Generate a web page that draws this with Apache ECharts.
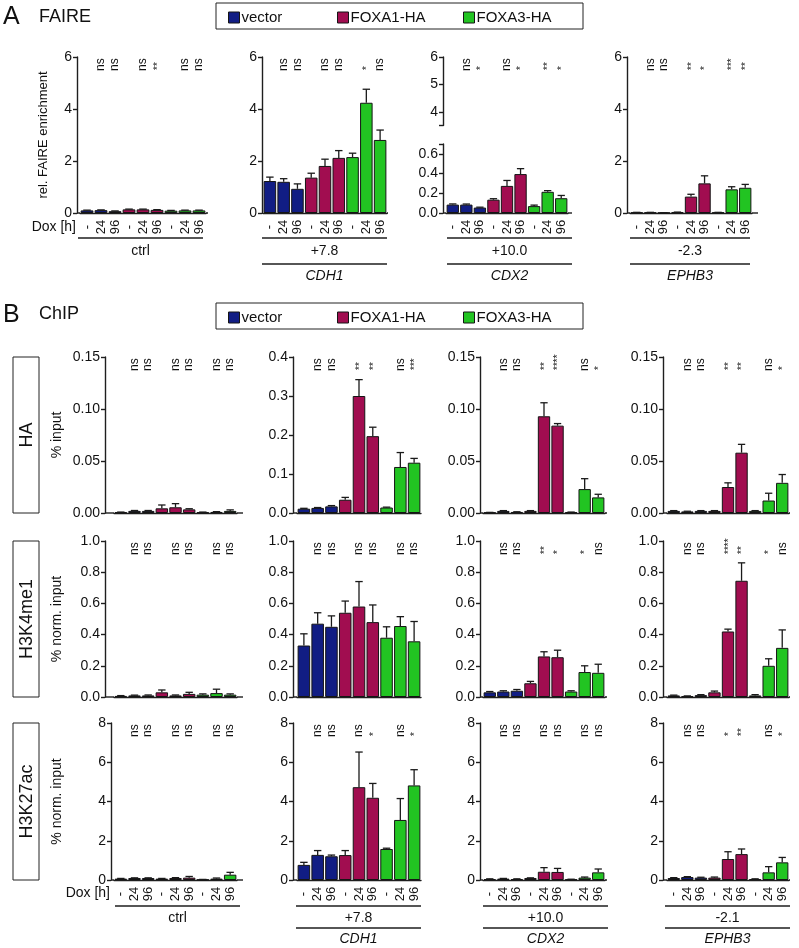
<!DOCTYPE html>
<html><head><meta charset="utf-8">
<script src="https://cdn.jsdelivr.net/npm/echarts@6/dist/echarts.min.js"></script>
<style>html,body{margin:0;padding:0;background:#fff}#c{width:799px;height:948px}</style>
</head><body><div id="c"></div>
<script>
// ---------- categories / labels ----------
const groupNames = ['vector', 'FOXA1-HA', 'FOXA3-HA'];
const doxLabels = ['-', '24', '96', '-', '24', '96', '-', '24', '96'];
const faireRegions = ['ctrl', '+7.8', '+10.0', '-2.3'];
const chipRegions = ['ctrl', '+7.8', '+10.0', '-2.1'];
const geneNames = ['', 'CDH1', 'CDX2', 'EPHB3'];
const chipMarks = ['HA', 'H3K4me1', 'H3K27ac'];

// ---------- FAIRE ----------
const faireCtrlMean  = [0.10, 0.11, 0.07, 0.14, 0.14, 0.12, 0.09, 0.10, 0.10];
const faireCtrlErr   = [0.01, 0.01, 0.01, 0.01, 0.01, 0.01, 0.01, 0.01, 0.01];
const faireCtrlSig   = ['', 'ns', 'ns', '', 'ns', '**', '', 'ns', 'ns'];
const faireCdh1Mean  = [1.23, 1.20, 0.93, 1.36, 1.81, 2.12, 2.15, 4.24, 2.81];
const faireCdh1Err   = [0.15, 0.12, 0.19, 0.17, 0.26, 0.28, 0.15, 0.52, 0.38];
const faireCdh1Sig   = ['', 'ns', 'ns', '', 'ns', 'ns', '', '*', 'ns'];
const faireCdx2Mean  = [0.085, 0.085, 0.055, 0.135, 0.275, 0.395, 0.07, 0.215, 0.15];
const faireCdx2Err   = [0.007, 0.006, 0.004, 0.010, 0.055, 0.055, 0.010, 0.012, 0.028];
const faireCdx2Sig   = ['', 'ns', '*', '', 'ns', '*', '', '**', '*'];
const faireEphb3Mean = [0.02, 0.02, 0.01, 0.03, 0.63, 1.14, 0.02, 0.91, 0.97];
const faireEphb3Err  = [0.005, 0.005, 0.003, 0.005, 0.09, 0.29, 0.005, 0.10, 0.13];
const faireEphb3Sig  = ['', 'ns', 'ns', '', '**', '*', '', '***', '**'];

// ---------- ChIP HA ----------
const haCtrlMean  = [0.0007, 0.002, 0.002, 0.0045, 0.0055, 0.0035, 0.0007, 0.001, 0.002];
const haCtrlErr   = [0.0002, 0.0004, 0.0004, 0.0032, 0.0035, 0.0006, 0.0002, 0.0003, 0.001];
const haCtrlSig   = ['', 'ns', 'ns', '', 'ns', 'ns', '', 'ns', 'ns'];
const haCdh1Mean  = [0.011, 0.013, 0.017, 0.034, 0.300, 0.197, 0.014, 0.118, 0.129];
const haCdh1Err   = [0.001, 0.001, 0.002, 0.006, 0.042, 0.023, 0.001, 0.037, 0.011];
const haCdh1Sig   = ['', 'ns', 'ns', '', '**', '**', '', 'ns', '***'];
const haCdx2Mean  = [0.0005, 0.002, 0.001, 0.002, 0.093, 0.084, 0.0008, 0.023, 0.015];
const haCdx2Err   = [0.0001, 0.0003, 0.0002, 0.0003, 0.013, 0.002, 0.0001, 0.010, 0.003];
const haCdx2Sig   = ['', 'ns', 'ns', '', '**', '****', '', 'ns', '*'];
const haEphb3Mean = [0.002, 0.0015, 0.002, 0.002, 0.025, 0.058, 0.002, 0.012, 0.029];
const haEphb3Err  = [0.0003, 0.0002, 0.0003, 0.0003, 0.004, 0.008, 0.0003, 0.007, 0.008];
const haEphb3Sig  = ['', 'ns', 'ns', '', '**', '**', '', 'ns', '*'];

// ---------- ChIP H3K4me1 ----------
const k4CtrlMean  = [0.007, 0.01, 0.01, 0.03, 0.01, 0.02, 0.015, 0.025, 0.015];
const k4CtrlErr   = [0.002, 0.002, 0.003, 0.015, 0.003, 0.01, 0.005, 0.025, 0.005];
const k4CtrlSig   = ['', 'ns', 'ns', '', 'ns', 'ns', '', 'ns', 'ns'];
const k4Cdh1Mean  = [0.33, 0.47, 0.45, 0.54, 0.58, 0.48, 0.38, 0.455, 0.357];
const k4Cdh1Err   = [0.075, 0.07, 0.07, 0.075, 0.16, 0.11, 0.07, 0.06, 0.127];
const k4Cdh1Sig   = ['', 'ns', 'ns', '', 'ns', 'ns', '', 'ns', 'ns'];
const k4Cdx2Mean  = [0.03, 0.035, 0.04, 0.088, 0.26, 0.255, 0.035, 0.16, 0.155];
const k4Cdx2Err   = [0.005, 0.005, 0.008, 0.012, 0.03, 0.045, 0.005, 0.04, 0.055];
const k4Cdx2Sig   = ['', 'ns', 'ns', '', '**', '*', '', '*', 'ns'];
const k4Ephb3Mean = [0.01, 0.005, 0.012, 0.03, 0.42, 0.745, 0.01, 0.20, 0.315];
const k4Ephb3Err  = [0.002, 0.002, 0.003, 0.008, 0.015, 0.115, 0.005, 0.045, 0.115];
const k4Ephb3Sig  = ['', 'ns', 'ns', '', '****', '**', '', '*', 'ns'];

// ---------- ChIP H3K27ac ----------
const k27CtrlMean  = [0.07, 0.10, 0.10, 0.07, 0.10, 0.12, 0.02, 0.07, 0.27];
const k27CtrlErr   = [0.01, 0.01, 0.01, 0.01, 0.02, 0.06, 0.01, 0.03, 0.12];
const k27CtrlSig   = ['', 'ns', 'ns', '', 'ns', 'ns', '', 'ns', 'ns'];
const k27Cdh1Mean  = [0.77, 1.28, 1.21, 1.27, 4.73, 4.19, 1.58, 3.06, 4.82];
const k27Cdh1Err   = [0.13, 0.22, 0.06, 0.23, 1.79, 0.73, 0.04, 1.09, 0.80];
const k27Cdh1Sig   = ['', 'ns', 'ns', '', 'ns', '*', '', 'ns', '*'];
const k27Cdx2Mean  = [0.05, 0.07, 0.05, 0.10, 0.42, 0.41, 0.03, 0.12, 0.39];
const k27Cdx2Err   = [0.01, 0.01, 0.01, 0.01, 0.21, 0.18, 0.01, 0.03, 0.17];
const k27Cdx2Sig   = ['', 'ns', 'ns', '', 'ns', 'ns', '', 'ns', 'ns'];
const k27Ephb3Mean = [0.10, 0.15, 0.12, 0.12, 1.07, 1.32, 0.05, 0.39, 0.90];
const k27Ephb3Err  = [0.02, 0.02, 0.02, 0.03, 0.37, 0.26, 0.01, 0.29, 0.25];
const k27Ephb3Sig  = ['', 'ns', 'ns', '', '*', '**', '', 'ns', '*'];

// ---------- styling / layout ----------
const FONT = '"Liberation Sans", Arial, Helvetica, sans-serif';
const groupColors = ['#111d84', '#a10d50', '#22c422'];
const AX = '#1e1e1e', TXT = '#111';

const colsA = [
  {axisX: 77, barL: 80, barR: 206, axisR: 208},
  {axisX: 262, barL: 263, barR: 387, axisR: 388},
  {axisX: 443, barL: 446, barR: 568, axisR: 572},
  {axisX: 627, barL: 630, barR: 752, axisR: 758}
];
const colsB = [
  {axisX: 105, barL: 114, barR: 237, axisR: 243},
  {axisX: 293, barL: 297, barR: 421, axisR: 421},
  {axisX: 480, barL: 483, barR: 605, axisR: 607},
  {axisX: 663, barL: 667, barR: 789, axisR: 790}
];
const colsD = [Object.assign({}, colsB[0], {axisX: 111}), colsB[1], colsB[2], colsB[3]];

const grids = [], xAxes = [], yAxes = [], series = [], graphics = [];

function addGrid(x, top, bottom, yCfg, showXLine, showXLabels) {
  const gi = grids.length;
  grids.push({left: x.barL, top: top, width: x.barR - x.barL, height: bottom - top});
  xAxes.push({
    gridIndex: gi, type: 'category', data: doxLabels, boundaryGap: true,
    axisLine: {show: showXLine, lineStyle: {color: AX, width: 1.4}},
    axisTick: {show: false},
    axisLabel: showXLabels ? {show: true, interval: 0, rotate: 90, align: 'center', verticalAlign: 'middle',
      margin: 14, fontSize: 13, color: TXT, fontFamily: FONT} : {show: false}
  });
  const y = {
    gridIndex: gi, type: 'value', min: yCfg.min, max: yCfg.max,
    offset: x.barL - x.axisX,
    axisLine: {show: true, lineStyle: {color: AX, width: 1.4}},
    axisTick: {show: true, length: 4, lineStyle: {color: AX, width: 1.4}},
    axisLabel: {show: true, fontSize: 14, color: TXT, fontFamily: FONT, margin: 5,
      formatter: v => Number(v).toFixed(yCfg.dec)},
    splitLine: {show: false}
  };
  if (yCfg.interval) y.interval = yCfg.interval;
  if (yCfg.tickVals) { y.axisTick.customValues = yCfg.tickVals; y.axisLabel.customValues = yCfg.labelVals; }
  if (yCfg.name) {
    y.name = yCfg.name; y.nameLocation = 'middle'; y.nameGap = yCfg.nameGap;
    y.nameTextStyle = {fontSize: yCfg.nameSize, color: TXT, fontFamily: FONT};
  }
  yAxes.push(y);
  return gi;
}

function addBars(gi, mean, err) {
  for (let g = 0; g < 3; g++) {
    series.push({
      type: 'bar', name: groupNames[g], xAxisIndex: gi, yAxisIndex: gi,
      data: mean.map((v, i) => Math.floor(i / 3) === g ? v : '-'),
      barGap: '-100%', barCategoryGap: '9%',
      itemStyle: {color: groupColors[g], borderColor: '#151515', borderWidth: 1},
      silent: true
    });
  }
  series.push({
    type: 'custom', xAxisIndex: gi, yAxisIndex: gi, z: 5, silent: true,
    data: mean.map((v, i) => [i, v, v + err[i]]),
    renderItem: (params, api) => {
      const i = api.value(0);
      const p0 = api.coord([i, api.value(1)]);
      const p1 = api.coord([i, api.value(2)]);
      const half = api.size([1, 0])[0] * 0.27;
      const st = {stroke: '#1a1a1a', lineWidth: 1.3};
      return {type: 'group', children: [
        {type: 'line', shape: {x1: p0[0], y1: p0[1], x2: p1[0], y2: p1[1]}, style: st},
        {type: 'line', shape: {x1: p1[0] - half, y1: p1[1], x2: p1[0] + half, y2: p1[1]}, style: st}
      ]};
    }
  });
}

function addSig(gi, sig, yMax) {
  series.push({
    type: 'custom', xAxisIndex: gi, yAxisIndex: gi, z: 6, silent: true,
    data: sig.map((s, i) => [i, yMax]),
    renderItem: (params, api) => {
      const s = sig[params.dataIndex];
      if (!s) return null;
      const p = api.coord([api.value(0), api.value(1)]);
      const stars = s.indexOf('*') >= 0;
      return {type: 'text', x: p[0] + (stars ? 1 : 0), y: p[1] + (stars ? 13 : 14), rotation: Math.PI / 2,
        style: {text: s, fontSize: stars ? 10 : 12, fontFamily: FONT, fill: TXT, align: 'left', verticalAlign: 'middle'}};
    }
  });
}

function xExtensions(x, yZero) {
  const st = {stroke: AX, lineWidth: 1.4};
  if (x.barL - x.axisX > 0.5) graphics.push({type: 'line', shape: {x1: x.axisX, y1: yZero, x2: x.barL, y2: yZero}, style: st, silent: true});
  if (x.axisR - x.barR > 0.5) graphics.push({type: 'line', shape: {x1: x.barR, y1: yZero, x2: x.axisR, y2: yZero}, style: st, silent: true});
}

function addPanel(x, top, bottom, yCfg, mean, err, sig, showXLabels) {
  const gi = addGrid(x, top, bottom, yCfg, true, showXLabels);
  addBars(gi, mean, err);
  addSig(gi, sig, yCfg.max);
  xExtensions(x, bottom);
}

// ---------- Row A: FAIRE ----------
const rowA = {top: 57, bottom: 213};
addPanel(colsA[0], rowA.top, rowA.bottom, {min: 0, max: 6, interval: 2, dec: 0, name: 'rel. FAIRE enrichment', nameGap: 27, nameSize: 13}, faireCtrlMean, faireCtrlErr, faireCtrlSig, true);
addPanel(colsA[1], rowA.top, rowA.bottom, {min: 0, max: 6, interval: 2, dec: 0}, faireCdh1Mean, faireCdh1Err, faireCdh1Sig, true);
// CDX2 with broken axis
{
  const x = colsA[2];
  const gTop = addGrid(x, 57, 125.5, {min: 3.5, max: 6, dec: 0, tickVals: [3.5, 4, 5, 6], labelVals: [4, 5, 6]}, false, false);
  addSig(gTop, faireCdx2Sig, 6);
  const gBot = addGrid(x, 144, 213, {min: 0, max: 0.7, dec: 1, tickVals: [0, 0.2, 0.4, 0.6, 0.7], labelVals: [0, 0.2, 0.4, 0.6]}, true, true);
  addBars(gBot, faireCdx2Mean, faireCdx2Err);
  xExtensions(x, 213);
}
addPanel(colsA[3], rowA.top, rowA.bottom, {min: 0, max: 6, interval: 2, dec: 0}, faireEphb3Mean, faireEphb3Err, faireEphb3Sig, true);

// ---------- Row B: HA ----------
const rowB = {top: 357, bottom: 513};
addPanel(colsB[0], rowB.top, rowB.bottom, {min: 0, max: 0.15, interval: 0.05, dec: 2, name: '% input', nameGap: 41, nameSize: 14}, haCtrlMean, haCtrlErr, haCtrlSig, false);
addPanel(colsB[1], rowB.top, rowB.bottom, {min: 0, max: 0.4, interval: 0.1, dec: 1}, haCdh1Mean, haCdh1Err, haCdh1Sig, false);
addPanel(colsB[2], rowB.top, rowB.bottom, {min: 0, max: 0.15, interval: 0.05, dec: 2}, haCdx2Mean, haCdx2Err, haCdx2Sig, false);
addPanel(colsB[3], rowB.top, rowB.bottom, {min: 0, max: 0.15, interval: 0.05, dec: 2}, haEphb3Mean, haEphb3Err, haEphb3Sig, false);

// ---------- Row C: H3K4me1 ----------
const rowC = {top: 541, bottom: 697};
addPanel(colsB[0], rowC.top, rowC.bottom, {min: 0, max: 1, interval: 0.2, dec: 1, name: '% norm. input', nameGap: 41, nameSize: 14}, k4CtrlMean, k4CtrlErr, k4CtrlSig, false);
addPanel(colsB[1], rowC.top, rowC.bottom, {min: 0, max: 1, interval: 0.2, dec: 1}, k4Cdh1Mean, k4Cdh1Err, k4Cdh1Sig, false);
addPanel(colsB[2], rowC.top, rowC.bottom, {min: 0, max: 1, interval: 0.2, dec: 1}, k4Cdx2Mean, k4Cdx2Err, k4Cdx2Sig, false);
addPanel(colsB[3], rowC.top, rowC.bottom, {min: 0, max: 1, interval: 0.2, dec: 1}, k4Ephb3Mean, k4Ephb3Err, k4Ephb3Sig, false);

// ---------- Row D: H3K27ac ----------
const rowD = {top: 723, bottom: 880};
addPanel(colsD[0], rowD.top, rowD.bottom, {min: 0, max: 8, interval: 2, dec: 0, name: '% norm. input', nameGap: 47, nameSize: 14}, k27CtrlMean, k27CtrlErr, k27CtrlSig, true);
addPanel(colsD[1], rowD.top, rowD.bottom, {min: 0, max: 8, interval: 2, dec: 0}, k27Cdh1Mean, k27Cdh1Err, k27Cdh1Sig, true);
addPanel(colsD[2], rowD.top, rowD.bottom, {min: 0, max: 8, interval: 2, dec: 0}, k27Cdx2Mean, k27Cdx2Err, k27Cdx2Sig, true);
addPanel(colsD[3], rowD.top, rowD.bottom, {min: 0, max: 8, interval: 2, dec: 0}, k27Ephb3Mean, k27Ephb3Err, k27Ephb3Sig, true);

// ---------- decorations: region brackets, gene names ----------
function txt(x, y, s, size, extra) {
  graphics.push(Object.assign({type: 'text', x: x, y: y, silent: true,
    style: Object.assign({text: s, fontSize: size, fontFamily: FONT, fill: TXT, align: 'center', verticalAlign: 'middle'}, extra && extra.style || {})},
    extra && extra.el || {}));
}
function hline(x1, x2, y) {
  graphics.push({type: 'line', silent: true, shape: {x1: x1, y1: y, x2: x2, y2: y}, style: {stroke: AX, lineWidth: 1.4}});
}
const bracketA = {line1: 238, text: 251, line2: 264, gene: 276, spans: [[78, 203], [262, 387], [447, 572], [630, 750]], doxX: 76, doxY: 227};
const bracketD = {line1: 906, text: 918, line2: 928, gene: 939, spans: [[115, 240], [296, 421], [483, 608], [665, 790]], doxX: 110, doxY: 893};
function brackets(b, regions) {
  b.spans.forEach((s, k) => {
    const cx = (s[0] + s[1]) / 2;
    hline(s[0], s[1], b.line1);
    txt(cx, b.text, regions[k], 14);
    if (geneNames[k]) {
      hline(s[0], s[1], b.line2);
      txt(cx, b.gene, geneNames[k], 14, {style: {fontStyle: 'italic'}});
    }
  });
  txt(b.doxX, b.doxY, 'Dox [h]', 14, {style: {align: 'right'}});
}
brackets(bracketA, faireRegions);
brackets(bracketD, chipRegions);

// panel letters and titles
txt(3, 17, 'A', 25, {style: {align: 'left'}});
txt(39, 17, 'FAIRE', 18, {style: {align: 'left'}});
txt(3, 315, 'B', 25, {style: {align: 'left'}});
txt(39, 314, 'ChIP', 18, {style: {align: 'left'}});

// legend boxes
[3, 303].forEach(y => graphics.push({type: 'rect', silent: true, shape: {x: 216, y: y, width: 367, height: 26}, style: {fill: 'none', stroke: '#222', lineWidth: 1}}));

// row label boxes (ChIP marks)
const markBoxes = [[357, 513], [541, 697], [723, 880]];
markBoxes.forEach((r, k) => {
  graphics.push({type: 'rect', silent: true, shape: {x: 13, y: r[0], width: 26, height: r[1] - r[0]}, style: {fill: '#fff', stroke: '#222', lineWidth: 1}});
  graphics.push({type: 'text', silent: true, x: 27, y: (r[0] + r[1]) / 2, rotation: Math.PI / 2,
    style: {text: chipMarks[k], fontSize: 18, fontFamily: FONT, fill: TXT, align: 'center', verticalAlign: 'middle'}});
});

// legends
const legendX = [228, 337, 463];
const legends = [];
[10, 310].forEach(top => {
  groupNames.forEach((n, g) => legends.push({
    data: [n], left: legendX[g], top: top, padding: 0, icon: 'rect', itemWidth: 11, itemHeight: 11,
    selectedMode: false, itemStyle: {borderColor: '#151515', borderWidth: 1},
    textStyle: {fontSize: 15, color: TXT, fontFamily: FONT, padding: [0, 0, 0, -3]}
  }));
});

const chart = echarts.init(document.getElementById('c'), null, {renderer: 'canvas'});
chart.setOption({
  animation: false,
  backgroundColor: '#fff',
  textStyle: {fontFamily: FONT},
  grid: grids, xAxis: xAxes, yAxis: yAxes, series: series,
  legend: legends,
  graphic: {elements: graphics}
});
</script>
</body></html>
